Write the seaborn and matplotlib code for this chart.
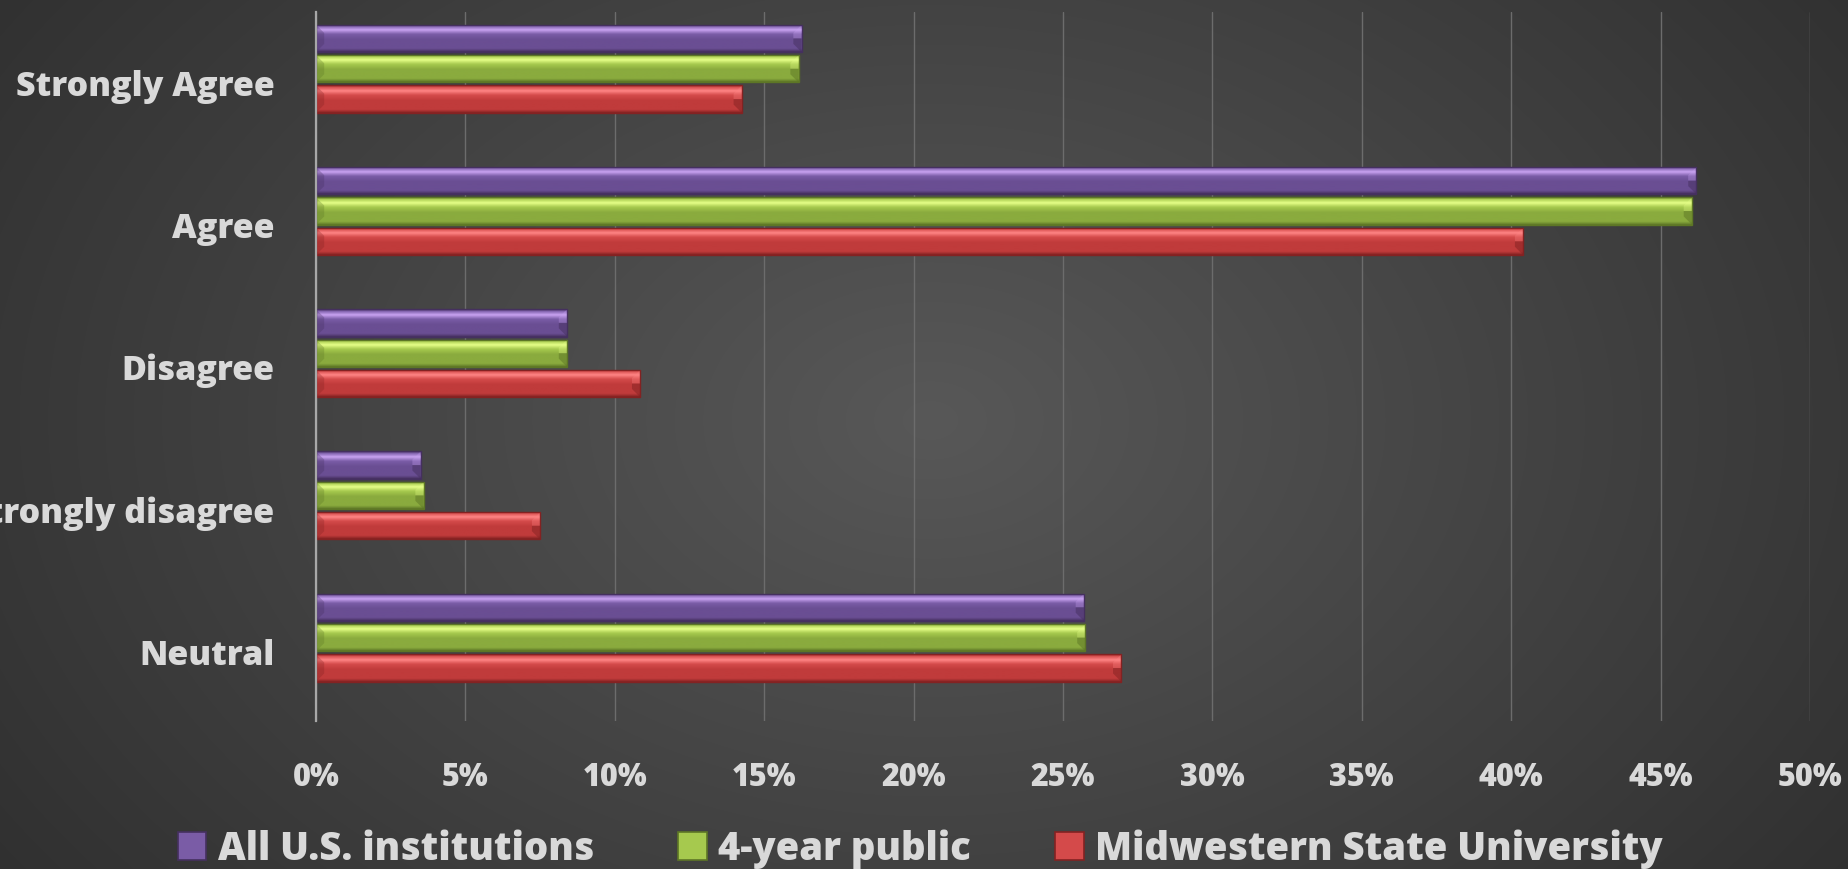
import numpy as np
import pandas as pd
import matplotlib
matplotlib.use("Agg")
import matplotlib.pyplot as plt
import seaborn as sns
from matplotlib.transforms import ScaledTranslation
from matplotlib.patches import Rectangle
from matplotlib.colors import LinearSegmentedColormap

# Survey responses (percent of respondents)
categories = ["Strongly Agree", "Agree", "Disagree", "Strongly disagree", "Neutral"]
series = ["All U.S. institutions", "4-year public", "Midwestern State University"]
all_us = [16.25, 46.2, 8.4, 3.5, 25.7]
four_year_public = [16.15, 46.05, 8.4, 3.6, 25.75]
midwestern = [14.25, 40.4, 10.85, 7.5, 26.95]
x_ticks = [0, 5, 10, 15, 20, 25, 30, 35, 40, 45, 50]

df = pd.DataFrame({
    "response": categories * 3,
    "group": np.repeat(series, len(categories)),
    "pct": all_us + four_year_public + midwestern,
})

# base, highlight, shadow tones for each series
base_colors = ["#6a4e93", "#8aab3e", "#c03b3b"]
mid_colors = ["#7a5ca6", "#a6c94e", "#d44a4a"]
light_colors = ["#c9a3f2", "#e6ff88", "#ff8585"]
dark_colors = ["#45305f", "#5d7626", "#832222"]
text_color = "#d9d9d9"
font_list = ["Open Sans", "DejaVu Sans"]
font_weight = 800

sns.set_theme(style="dark")
plt.rcParams["font.family"] = font_list
plt.rcParams["font.weight"] = font_weight

W, H, DPI = 1848, 869, 100
fig = plt.figure(figsize=(W / DPI, H / DPI), dpi=DPI)

# radial dark-gray backdrop
bg = fig.add_axes([0, 0, 1, 1], zorder=-10)
yy, xx = np.mgrid[0:H, 0:W]
r = np.sqrt(((xx - 930) / 1150.0) ** 2 + ((yy - 420) / 800.0) ** 2)
gray = 0.345 - 0.19 * np.clip(r, 0, 1.2) / 1.2
bg.imshow(np.dstack([gray, gray, gray]), aspect="auto", extent=(0, 1, 0, 1))
bg.set_axis_off()

ax_rect = [0.171, 0.170, 0.8084, 0.816]
ax = fig.add_axes(ax_rect)
ax.set_facecolor("none")
sns.barplot(data=df, x="pct", y="response", hue="group", order=categories,
            hue_order=series, palette=base_colors, width=0.64, gap=0.1,
            saturation=1, legend=False, ax=ax, zorder=3)

x_max = 50
y_lo, y_hi = 4.588, -0.398
px_per_x = ax_rect[2] * W / x_max
px_per_y = ax_rect[3] * H / (y_lo - y_hi)

# bevelled look: vertical gradient clipped to each bar, plus shaded end facets
n_cat = len(categories)
for i, patch in enumerate(ax.patches):
    s = i // n_cat
    x0, y0 = patch.get_x(), patch.get_y()
    w, h = patch.get_width(), patch.get_height()
    cmap = LinearSegmentedColormap.from_list(
        f"bev{s}",
        [(0.0, dark_colors[s]), (0.06, mid_colors[s]), (0.2, light_colors[s]),
         (0.36, mid_colors[s]), (0.55, base_colors[s]), (0.88, base_colors[s]),
         (1.0, dark_colors[s])])
    grad = np.linspace(0, 1, 64).reshape(-1, 1)
    im = ax.imshow(grad, cmap=cmap, aspect="auto", origin="upper",
                   extent=(x0, x0 + w, y0 + h, y0), zorder=3.5)
    im.set_clip_path(patch)
    patch.set_edgecolor(dark_colors[s])
    patch.set_linewidth(1.0)
    patch.set_facecolor("none")
    patch.set_zorder(4)
    # end facets, sized from the bar height in pixels
    bev_y = h * 0.3
    bev_x = bev_y * px_per_y / px_per_x
    xr = x0 + w
    ax.fill([xr, xr - bev_x, xr - bev_x, xr], [y0, y0 + bev_y, y0 + h / 2, y0 + h / 2],
            color=light_colors[s], alpha=0.3, lw=0, zorder=3.8)
    ax.fill([xr, xr - bev_x, xr - bev_x, xr], [y0 + h / 2, y0 + h / 2, y0 + h - bev_y, y0 + h],
            color=dark_colors[s], alpha=0.5, lw=0, zorder=3.8)
    ax.fill([x0, x0 + bev_x, x0 + bev_x, x0], [y0, y0 + bev_y, y0 + h - bev_y, y0 + h],
            color=dark_colors[s], alpha=0.3, lw=0, zorder=3.8)

ax.set_xlim(0, x_max)
ax.set_ylim(y_lo, y_hi)
ax.set_xticks(x_ticks)
ax.set_xticklabels([f"{t}%" for t in x_ticks])
ax.set_xlabel("")
ax.set_ylabel("")

ax.grid(axis="x", color="#6c6c6c", linewidth=1.0, zorder=0)
ax.grid(axis="y", visible=False)
ax.set_axisbelow(True)
for side in ["top", "right", "bottom"]:
    ax.spines[side].set_visible(False)
ax.spines["left"].set_color("#a8a8a8")
ax.spines["left"].set_linewidth(1.6)
ax.spines["left"].set_zorder(5)

ax.tick_params(axis="y", length=0, pad=30, labelsize=24.5, labelcolor=text_color)
ax.tick_params(axis="x", length=0, pad=29, labelsize=22, labelcolor=text_color)
for lab in ax.get_yticklabels():
    lab.set_fontweight(font_weight)
    lab.set_transform(lab.get_transform() + ScaledTranslation(0, -0.14, fig.dpi_scale_trans))
for lab in ax.get_xticklabels():
    lab.set_fontweight(font_weight)

handles = [Rectangle((0, 0), 1, 1, facecolor=mid_colors[k], edgecolor=dark_colors[k], lw=1.2)
           for k in range(len(series))]
fig.legend(handles, series, loc="center", bbox_to_anchor=(0.498, 1 - 849 / H),
           ncol=3, frameon=False, handlelength=0.75, handleheight=0.75,
           handletextpad=0.3, columnspacing=2.2, labelcolor=text_color,
           prop={"family": font_list, "weight": font_weight, "size": 27.5})

fig.savefig("out.png", dpi=DPI)
